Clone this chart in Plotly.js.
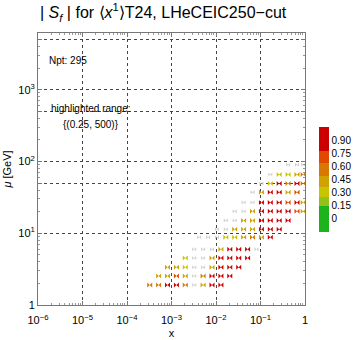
<!DOCTYPE html>
<html>
<head>
<meta charset="utf-8">
<script src="https://cdn.plot.ly/plotly-3.0.1.min.js"></script>
<style>html,body{margin:0;padding:0;background:#fff;}#chart{width:360px;height:340px;}</style>
</head>
<body>
<div id="chart"></div>
<script>
// Highlighted points: x, mu [GeV], |S_f| value
const ptX = [
  3.24e-4,5.13e-4,8.13e-4,1.29e-3,2.04e-3,5.13e-3,8.13e-3,1.29e-2,
  5.13e-4,8.13e-4,1.29e-3,2.04e-3,5.13e-3,8.13e-3,1.29e-2,2.04e-2,
  8.13e-4,1.29e-3,2.04e-3,8.13e-3,1.29e-2,2.04e-2,3.24e-2,
  2.04e-3,8.13e-3,1.29e-2,2.04e-2,3.24e-2,5.13e-2,
  1.29e-2,2.04e-2,3.24e-2,5.13e-2,
  1.66e-2,2.63e-2,4.17e-2,6.61e-2,0.105,0.166,
  2.63e-2,4.17e-2,6.61e-2,0.105,0.166,0.263,
  4.17e-2,6.61e-2,0.105,0.166,0.263,0.417,
  6.61e-2,0.105,0.166,0.263,0.417,0.661,0.91,
  0.105,0.166,0.263,0.417,0.661,0.91,
  0.105,0.166,0.263,0.417,0.661,
  0.166,0.263,0.417,0.661,0.91,
  0.263,0.417,0.661,0.91
];
const ptMu = [
  1.9,1.9,1.9,1.9,1.9,1.9,1.9,1.9,
  2.53,2.53,2.53,2.53,2.53,2.53,2.53,2.53,
  3.37,3.37,3.37,3.37,3.37,3.37,3.37,
  4.5,4.5,4.5,4.5,4.5,4.5,
  6.0,6.0,6.0,6.0,
  8.8,8.8,8.8,8.8,8.8,8.8,
  11.4,11.4,11.4,11.4,11.4,11.4,
  15.1,15.1,15.1,15.1,15.1,15.1,
  20.2,20.2,20.2,20.2,20.2,20.2,20.2,
  26.9,26.9,26.9,26.9,26.9,26.9,
  37.1,37.1,37.1,37.1,37.1,
  49.4,49.4,49.4,49.4,49.4,
  66,66,66,66
];
const ptVal = [
  0.6,0.55,0.85,0.9,0.55,0.4,0.8,0.85,
  0.38,0.42,0.65,0.4,0.6,0.85,0.9,0.85,
  0.38,0.38,0.3,0.42,0.85,0.85,0.8,
  0.35,0.4,0.85,0.88,0.85,0.8,
  0.4,0.85,0.85,0.85,
  0.3,0.28,0.4,0.6,0.4,0.85,
  0.4,0.4,0.38,0.85,0.85,0.85,
  0.4,0.4,0.85,0.9,0.85,0.85,
  0.4,0.85,0.85,0.85,0.85,0.65,0.4,
  0.85,0.85,0.88,0.65,0.85,0.4,
  0.38,0.85,0.85,0.4,0.7,
  0.35,0.85,0.6,0.85,0.6,
  0.3,0.28,0.38,0.5
];
// Points outside the highlighted range (gray)
const grayX = [
  3.24e-3, 3.24e-3, 3.24e-3,5.13e-3, 3.24e-3,5.13e-3, 3.24e-3,5.13e-3,8.13e-3,8.13e-2,
  4.17e-3,6.61e-3,1.05e-2, 1.05e-2,1.66e-2, 1.66e-2,2.63e-2, 2.63e-2,4.17e-2,
  4.17e-2,6.61e-2, 6.61e-2, 0.105, 0.166, 0.417,0.661,0.91
];
const grayMu = [
  1.9, 2.53, 3.37,3.37, 4.5,4.5, 6.0,6.0,6.0,6.0,
  8.8,8.8,8.8, 11.4,11.4, 15.1,15.1, 20.2,20.2,
  26.9,26.9, 37.1, 49.4, 66, 90,90,90
];
const xTickVals = [1e-6,1e-5,1e-4,1e-3,1e-2,1e-1,1];
const xTickText = ['10<sup>−6</sup>','10<sup>−5</sup>','10<sup>−4</sup>','10<sup>−3</sup>','10<sup>−2</sup>','10<sup>−1</sup>','1'];
const yTickVals = [1,10,50,100,500,1000,5000];
const yTickText = ['1','10<sup>1</sup>','','10<sup>2</sup>','','10<sup>3</sup>',''];
const cbTickVals = [0,0.15,0.3,0.45,0.6,0.75,0.9];
const cbTickText = ['0','0.15','0.30','0.45','0.60','0.75','0.90'];

const cs = [
  [0,'#1db31d'],[0.25,'#1db31d'],
  [0.25,'#93c01a'],[0.337,'#93c01a'],
  [0.337,'#c8c400'],[0.432,'#c8c400'],
  [0.432,'#cfa200'],[0.538,'#cfa200'],
  [0.538,'#d77800'],[0.654,'#d77800'],
  [0.654,'#e04a00'],[0.769,'#e04a00'],
  [0.769,'#cc0000'],[1,'#cc0000']
];

const font = {family:'Liberation Sans, Arial, sans-serif', color:'#000'};

const traces = [
  {
    type:'scatter', mode:'markers', x:grayX, y:grayMu, hoverinfo:'skip',
    marker:{symbol:'bowtie', size:4, color:'#c4c4c4', opacity:0.8, line:{width:0}}, showlegend:false
  },
  {
    type:'scatter', mode:'markers', x:ptX, y:ptMu,
    marker:{symbol:'bowtie', size:5, color:ptVal, colorscale:cs, cmin:-0.15, cmax:1.05,
      line:{width:0},
      colorbar:{x:1.051, xanchor:'left', xpad:0, y:0.654, yanchor:'top', ypad:0,
        len:105, lenmode:'pixels', thickness:10, outlinewidth:0, ticks:'',
        tickvals:cbTickVals, ticktext:cbTickText, tickfont:{...font, size:10}}},
    showlegend:false
  }
];

const gridStyle = {showgrid:true, gridcolor:'#444', gridwidth:1, griddash:'3px,3px'};

const layout = {
  width:360, height:340,
  margin:{l:38, r:47, t:33, b:35, pad:0},
  paper_bgcolor:'#fff', plot_bgcolor:'#fff',
  font:{...font, size:11},
  title:{text:'| <i>S<sub>f</sub></i> | for ⟨<i>x</i><sup>1</sup>⟩T24, LHeCEIC250−cut',
    x:40/360, xanchor:'left', xref:'container', y:0.963, yanchor:'middle',
    font:{...font, size:16}},
  xaxis:{type:'log', range:[-6,0], tickmode:'array', tickvals:xTickVals, ticktext:xTickText,
    ...gridStyle, zeroline:false, showline:true, linecolor:'#777', linewidth:1, mirror:'allticks',
    ticks:'inside', ticklen:4, tickcolor:'#777', tickfont:{...font, size:11}, ticklabelstandoff:5,
    minor:{ticks:'inside', ticklen:2, tickcolor:'#999', dtick:'D1', showgrid:false},
    title:{text:'x', font:{...font, size:11}, standoff:4}},
  yaxis:{type:'log', range:[0,3.79], tickmode:'array', tickvals:yTickVals, ticktext:yTickText,
    ...gridStyle, zeroline:false, showline:true, linecolor:'#777', linewidth:1, mirror:'allticks',
    ticks:'inside', ticklen:4, tickcolor:'#777', tickfont:{...font, size:11},
    minor:{ticks:'inside', ticklen:2, tickcolor:'#999', dtick:'D1', showgrid:false},
    title:{text:'<i>μ</i> [GeV]', font:{...font, size:11}, standoff:4}},
  annotations:[
    {xref:'paper', yref:'paper', x:9/275, y:(305-61)/272, xanchor:'left', yanchor:'middle',
      text:'Npt: 295', showarrow:false, font:{...font, size:10}},
    {xref:'paper', yref:'paper', x:55/275, y:(305-108)/272, xanchor:'center', yanchor:'middle',
      text:'highlighted range:', showarrow:false, font:{...font, size:10}},
    {xref:'paper', yref:'paper', x:55/275, y:(305-124)/272, xanchor:'center', yanchor:'middle',
      text:'{(0.25, 500)}', showarrow:false, font:{...font, size:10}}
  ]
};

Plotly.newPlot('chart', traces, layout, {displayModeBar:false, staticPlot:true});
</script>
</body>
</html>
